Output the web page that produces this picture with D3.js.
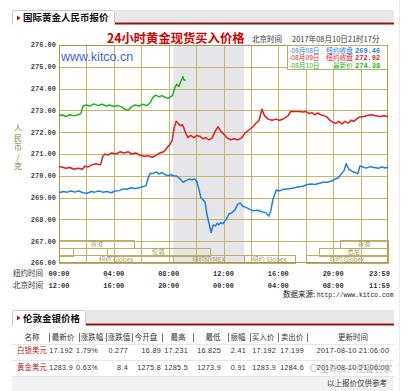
<!DOCTYPE html>
<html><head><meta charset="utf-8">
<script src="https://cdn.jsdelivr.net/npm/d3@7"></script>
<style>body{margin:0;background:#fff;}svg{display:block;}</style>
</head><body>
<script>
// ---------- data ----------
const greenHours = [0,0.2,0.5,0.8,1.1,1.4,1.6,1.75,2.0,2.25,2.55,2.85,3.15,3.45,3.7,4.0,4.3,4.6,4.8,5.05,5.25,5.55,5.85,6.1,6.4,6.65,6.85,7.05,7.3,7.5,7.75,7.95,8.15,8.3,8.45,8.6,8.75,8.9,9.05,9.1,9.25];
const greenValues = [272.75,272.8,272.72,272.8,272.75,272.8,272.85,273.2,273.25,273.2,273.3,273.22,273.28,273.2,273.25,273.18,273.22,273.15,273.05,273.0,273.15,273.25,273.2,273.28,273.22,273.35,273.6,273.7,273.62,273.68,273.6,273.55,273.62,273.7,274.05,274.2,274.1,274.35,274.55,274.4,274.38];

const redHours = [0,0.2,0.5,0.8,1.1,1.4,1.7,1.9,2.1,2.4,2.7,3.0,3.05,3.2,3.35,3.55,3.85,4.15,4.45,4.75,5.05,5.3,5.6,5.9,6.2,6.5,6.8,7.1,7.35,7.65,7.9,8.1,8.25,8.4,8.55,8.7,8.85,9.0,9.1,9.25,9.4,9.6,9.85,10.05,10.3,10.5,10.7,10.95,11.15,11.4,11.6,11.8,12.05,12.25,12.5,12.75,13.05,13.35,13.55,13.85,14.15,14.35,14.6,14.8,15.0,15.25,15.55,15.8,16.1,16.4,16.7,16.9,17.2,17.5,17.8,18.0,18.25,18.45,18.65,18.9,19.1,19.35,19.55,19.75,20.0,20.2,20.4,20.65,20.85,21.1,21.3,21.5,21.7,21.95,22.25,22.55,22.85,23.1,23.4,23.7,24];
const redValues = [270.42,270.4,270.35,270.38,270.3,270.35,270.3,270.45,270.4,270.5,270.55,270.5,270.55,270.9,271.0,270.95,271.05,271.0,271.1,271.05,271.1,271.0,271.05,270.95,270.9,270.92,270.85,270.95,271.05,271.1,271.3,271.45,271.6,272.2,272.5,272.4,272.3,272.35,272.2,271.95,271.75,271.85,271.75,271.85,271.8,271.7,271.75,271.65,271.72,272.05,272.25,272.05,271.9,271.75,271.65,271.7,271.65,271.75,271.95,272.1,272.25,272.4,272.55,273.05,272.75,272.6,272.55,272.6,272.55,272.62,272.75,272.95,272.95,272.95,272.93,272.95,272.85,272.9,272.8,272.88,272.8,272.75,272.7,272.55,272.45,272.4,272.5,272.38,272.5,272.42,272.55,272.5,272.6,272.7,272.72,272.78,272.8,272.75,272.72,272.75,272.72];

const blueHours = [0,0.3,0.6,0.9,1.15,1.45,1.75,2.05,2.35,2.6,2.9,3.2,3.5,3.8,4.1,4.4,4.65,4.95,5.25,5.55,5.85,6.1,6.35,6.5,6.65,6.85,7.1,7.3,7.5,7.75,7.95,8.15,8.4,8.6,8.85,9.05,9.25,9.5,9.7,9.9,10.05,10.2,10.35,10.5,10.65,10.8,10.95,11.1,11.25,11.4,11.55,11.65,11.8,11.95,12.2,12.4,12.6,12.85,13.05,13.2,13.4,13.65,13.95,14.2,14.5,14.8,15.1,15.3,15.45,15.6,15.85,16.05,16.35,16.65,16.9,17.2,17.5,17.8,18.1,18.4,18.65,18.95,19.25,19.55,19.85,20.15,20.35,20.55,20.8,20.95,21.15,21.4,21.6,21.8,21.95,22.2,22.4,22.7,23.0,23.3,23.55,23.8,24];
const blueValues = [269.22,269.28,269.25,269.3,269.25,269.3,269.22,269.2,269.28,269.25,269.3,269.25,269.28,269.22,269.3,269.32,269.4,269.38,269.45,269.42,269.45,269.5,269.55,269.9,270.12,270.1,270.18,270.08,270.15,270.05,270.0,270.05,270.0,269.98,269.85,269.7,269.78,269.85,269.82,269.85,269.75,269.4,269.0,268.9,268.8,268.2,267.8,267.4,267.75,267.7,267.82,267.75,267.85,267.8,268.0,268.25,268.3,268.45,268.7,268.75,268.6,268.55,268.45,268.4,268.42,268.35,268.3,268.15,268.4,268.9,269.35,269.3,269.38,269.4,269.42,269.45,269.5,269.52,269.6,269.62,269.6,269.65,269.7,269.7,269.75,269.85,269.9,270.05,270.25,270.55,270.3,270.2,270.15,270.1,270.45,270.4,270.35,270.42,270.38,270.35,270.4,270.36,270.4];

const legendDates = ["-08月08日","-08月09日","-08月10日"];
const legendKinds = ["纽约收盘","纽约收盘","最新价"];
const legendValues = ["269.46","272.92","274.38"];

const yTicks = [266,267,268,269,270,271,272,273,274,275,276];
const tickHours = [0,4,8,12,16,20,24];
const nyLabels = ["00:00","04:00","08:00","12:00","16:00","20:00","23:59"];
const bjLabels = ["12:00","16:00","20:00","00:00","04:00","08:00","11:59"];

const shadeStart = 8.33, shadeEnd = 13.5;

const sessionNames = ["香港","香港","","伦敦","悉尼","纽约 Globex","纽约NYMEX","纽约 Globex","纽约 Globex"];
const sessionRows  = [0,0,1,1,1,2,2,2,2];
const sessionStart = [0,20.5,0,3.5,19,0,8.33,13.5,18];
const sessionEnd   = [5.5,24,1,11,24,8.33,13.5,17.2,24];

const tableHeaders = ["名称","最新价","涨跌幅","涨跌值","今开盘","最高","最低","振幅","买入价","卖出价","更新时间"];
const tableNames = ["白银美元","黄金美元"];
const silverRow = ["17.192","1.79%","0.277","16.89","17.231","16.825","2.41","17.192","17.199","2017-08-10 21:06:00"];
const goldRow   = ["1283.9","0.63%","8.4","1275.8","1285.5","1273.9","0.91","1283.9","1284.6","2017-08-10 21:06:00"];

// ---------- drawing ----------
const W = 407, H = 391;
const svg = d3.select("body").append("svg").attr("width", W).attr("height", H);
svg.append("rect").attr("width", W).attr("height", H).attr("fill", "#fff");
svg.append("line").attr("x1",399.5).attr("x2",399.5).attr("y1",0).attr("y2",H).attr("stroke","#ececec");

const CJK = "'Noto Sans CJK SC', sans-serif";
const MONO = "'Liberation Mono', 'DejaVu Sans Mono', monospace";
const SANS = "'Liberation Sans', Arial, sans-serif";

function tab(x0, x1, y0, y1, label) {
  svg.append("rect").attr("x", x1).attr("y", y0).attr("width", 394 - x1).attr("height", y1 - y0 - 1.5).attr("fill", "#e8e8e8");
  svg.append("rect").attr("x", x1).attr("y", y1 - 1.5).attr("width", 394 - x1).attr("height", 2).attr("fill", "#8e1414");
  svg.append("path").attr("d", `M${x0+0.5},${y1+0.5}V${y0+2.5}Q${x0+0.5},${y0+0.5} ${x0+2.5},${y0+0.5}H${x1-2.5}Q${x1-0.5},${y0+0.5} ${x1-0.5},${y0+2.5}V${y1+0.5}`)
    .attr("fill", "#fff").attr("stroke", "#c8c8c8");
  svg.append("path").attr("d", `M${x0+5},${y0+5.5}l3.5,2.5l-3.5,2.5z`).attr("fill", "#a01818");
  svg.append("text").attr("x", x0 + 11).attr("y", y1 - 3.5).attr("font-family", CJK).attr("font-weight", "bold")
    .attr("font-size", 9.5).attr("fill", "#111").text(label);
}
tab(12, 115, 10, 24, "国际黄金人民币报价");

// scales
const x = d3.scaleLinear().domain([0, 24]).range([59, 388]);
const y = d3.scaleLinear().domain([266, 276]).range([263, 45]);

// title & time
svg.append("text").attr("x", 107).attr("y", 43).attr("font-family", CJK).attr("font-weight", "bold")
  .attr("font-size", 12.3).attr("fill", "#d40000").text("24小时黄金现货买入价格");
svg.append("text").attr("x", 252).attr("y", 42).attr("font-family", CJK).attr("font-size", 7.5).attr("fill", "#333").text("北京时间");
svg.append("text").attr("x", 292).attr("y", 42).attr("font-family", CJK).attr("font-size", 7.5).attr("fill", "#333").text("2017年08月10日21时17分");

const plot = svg.append("g");
// shading
plot.append("rect").attr("x", x(shadeStart)).attr("y", y(276)).attr("width", x(shadeEnd) - x(shadeStart))
  .attr("height", y(266) - y(276)).attr("fill", "#e6e6ea");

// gridlines
const gridColor = "#c6b66a";
plot.append("g").selectAll("line").data(d3.range(2, 24, 2)).join("line")
  .attr("x1", d => Math.round(x(d)) + 0.5).attr("x2", d => Math.round(x(d)) + 0.5)
  .attr("y1", y(276)).attr("y2", y(266)).attr("stroke", gridColor);
plot.append("g").selectAll("line").data(yTicks.slice(1, -1)).join("line")
  .attr("y1", d => Math.round(y(d)) + 0.5).attr("y2", d => Math.round(y(d)) + 0.5)
  .attr("x1", x(0)).attr("x2", x(24)).attr("stroke", gridColor);

// session boxes
const rowH = 7.6, rowTop0 = 240;
const sess = plot.append("g");
sessionNames.forEach((n, i) => {
  const x0 = x(sessionStart[i]), x1 = x(sessionEnd[i]);
  const yt = rowTop0 + sessionRows[i] * rowH;
  sess.append("rect").attr("x", Math.round(x0) + 0.5).attr("y", Math.round(yt) + 0.5)
    .attr("width", Math.round(x1 - x0)).attr("height", Math.round(rowH))
    .attr("fill", "none").attr("stroke", "#bcae62");
  if (n) sess.append("text").attr("x", (x0 + x1) / 2).attr("y", yt + rowH - 1.3).attr("text-anchor", "middle")
    .attr("font-family", CJK).attr("font-size", 6.3).attr("fill", "#a89c6c").text(n);
});

// border
plot.append("rect").attr("x", x(0) + 0.5).attr("y", y(276) + 0.5).attr("width", x(24) - x(0) - 1)
  .attr("height", y(266) - y(276) - 1).attr("fill", "none").attr("stroke", "#aa9a4c");

// site text
svg.append("text").attr("x", 61).attr("y", 61).attr("font-family", "Arial, 'Liberation Sans', sans-serif")
  .attr("font-size", 12.5).attr("fill", "#3a6ad8").text("www.kitco.cn");

// lines
const line = d3.line().x(d => x(d[0])).y(d => y(d[1]));
const series = [
  [blueHours, blueValues, "#1f80e0"],
  [redHours, redValues, "#e41c1c"],
  [greenHours, greenValues, "#1db41d"]
];
series.forEach(([hs, vs, c]) => {
  plot.append("path").datum(d3.zip(hs, vs)).attr("d", line).attr("fill", "none")
    .attr("stroke", c).attr("stroke-width", 1.5).attr("stroke-linejoin", "round");
});

// legend
const lg = svg.append("g");
lg.append("rect").attr("x", 287.5).attr("y", 45.5).attr("width", 100).attr("height", 24).attr("fill", "#fff").attr("stroke", "#bcae62");
const lgColors = ["#1f80e0", "#e41c1c", "#1db41d"];
legendDates.forEach((d, i) => {
  const by = 52.5 + i * 7.5;
  lg.append("text").attr("x", 289).attr("y", by).attr("font-family", CJK).attr("font-size", 6.7).attr("fill", lgColors[i]).text(d);
  lg.append("text").attr("x", 353).attr("y", by).attr("text-anchor", "end").attr("font-family", CJK).attr("font-size", 6.7).attr("fill", lgColors[i]).text(legendKinds[i]);
  lg.append("text").attr("x", 355).attr("y", by).attr("font-family", MONO).attr("font-weight", "bold").attr("font-size", 7).attr("fill", lgColors[i]).text(legendValues[i]);
});

// y axis labels
svg.append("g").selectAll("text").data(yTicks).join("text")
  .attr("x", 56).attr("y", d => y(d)).attr("dy", "0.35em").attr("text-anchor", "end")
  .attr("font-family", MONO).attr("font-weight", "bold").attr("font-size", 7).attr("fill", "#444")
  .text(d => d.toFixed(2));

// y title (vertical chars)
const yTitle = ["人","民","币","/","克"];
svg.append("g").selectAll("text").data(yTitle).join("text")
  .attr("x", 18).attr("y", (d, i) => 131 + i * 9.5).attr("text-anchor", "middle")
  .attr("font-family", CJK).attr("font-size", 8).attr("fill", "#8a7e44").text(d => d);

// x labels
svg.append("text").attr("x", 13).attr("y", 276).attr("font-family", CJK).attr("font-size", 7.5).attr("fill", "#333").text("纽约时间");
svg.append("text").attr("x", 13).attr("y", 288).attr("font-family", CJK).attr("font-size", 7.5).attr("fill", "#333").text("北京时间");
[[nyLabels, 276], [bjLabels, 288]].forEach(([labs, by]) => {
  svg.append("g").selectAll("text").data(labs).join("text")
    .attr("x", (d, i) => x(tickHours[i])).attr("y", by)
    .attr("text-anchor", (d, i) => i === labs.length - 1 ? "end" : "middle")
    .attr("dx", (d, i) => i === labs.length - 1 ? 2 : 0)
    .attr("font-family", MONO).attr("font-weight", "bold").attr("font-size", 7).attr("fill", "#333").text(d => d);
});
const src = svg.append("text").attr("x", 283).attr("y", 297).attr("fill", "#222");
src.append("tspan").attr("font-family", CJK).attr("font-size", 7.5).text("数据来源: ");
src.append("tspan").attr("font-family", MONO).attr("font-size", 6.4).text("http://www.kitco.com");

// ---------- bottom table ----------
tab(12, 86, 310, 325, "伦敦金银价格");

const headCenters = [32, 63, 92, 119, 146, 178, 213, 238, 263, 292, 353];
const seps = [49, 79, 106, 132, 162, 193, 228, 250, 278, 307];
const valRight = [73, 98, 128, 161, 188, 221, 246, 276, 304];
const tbl = svg.append("g");
tbl.selectAll("text.h").data(tableHeaders).join("text").attr("class", "h")
  .attr("x", (d, i) => headCenters[i]).attr("y", 340).attr("text-anchor", "middle")
  .attr("font-family", CJK).attr("font-size", 7.5).attr("fill", "#333").text(d => d);
tbl.selectAll("line.s").data(seps).join("line").attr("class", "s")
  .attr("x1", d => d + 0.5).attr("x2", d => d + 0.5).attr("y1", 333).attr("y2", 342).attr("stroke", "#777");
[344, 360, 376].forEach(yy => tbl.append("line").attr("x1", 12).attr("x2", 394).attr("y1", yy + 0.5).attr("y2", yy + 0.5).attr("stroke", "#e6e6e6"));
tbl.append("rect").attr("x", 12).attr("y", 377).attr("width", 382).attr("height", 14).attr("fill", "#f3f3f3");

[[tableNames[0], silverRow, 353], [tableNames[1], goldRow, 369.5]].forEach(([nm, row, by]) => {
  tbl.append("text").attr("x", 32).attr("y", by).attr("text-anchor", "middle").attr("font-family", CJK)
    .attr("font-size", 7.5).attr("fill", "#b52424").text(nm);
  row.forEach((v, i) => {
    const last = i === row.length - 1;
    tbl.append("text").attr("x", last ? headCenters[10] : valRight[i]).attr("y", by)
      .attr("text-anchor", last ? "middle" : "end").attr("font-family", SANS).attr("font-size", 7.2)
      .attr("letter-spacing", 0.3).attr("fill", "#333").text(v);
  });
});

// watermark + note
const wm = svg.append("g").attr("opacity", 0.75);
wm.append("circle").attr("cx", 314).attr("cy", 368).attr("r", 3.5).attr("fill", "none").attr("stroke", "#aaa");
wm.append("text").attr("x", 320).attr("y", 372).attr("font-family", CJK).attr("font-size", 9).attr("fill", "#aaa").text("全球资产配置管家");
svg.append("text").attr("x", 387).attr("y", 386).attr("text-anchor", "end").attr("font-family", CJK).attr("font-size", 7.5).attr("fill", "#333").text("以上报价仅供参考");
</script>
</body></html>
